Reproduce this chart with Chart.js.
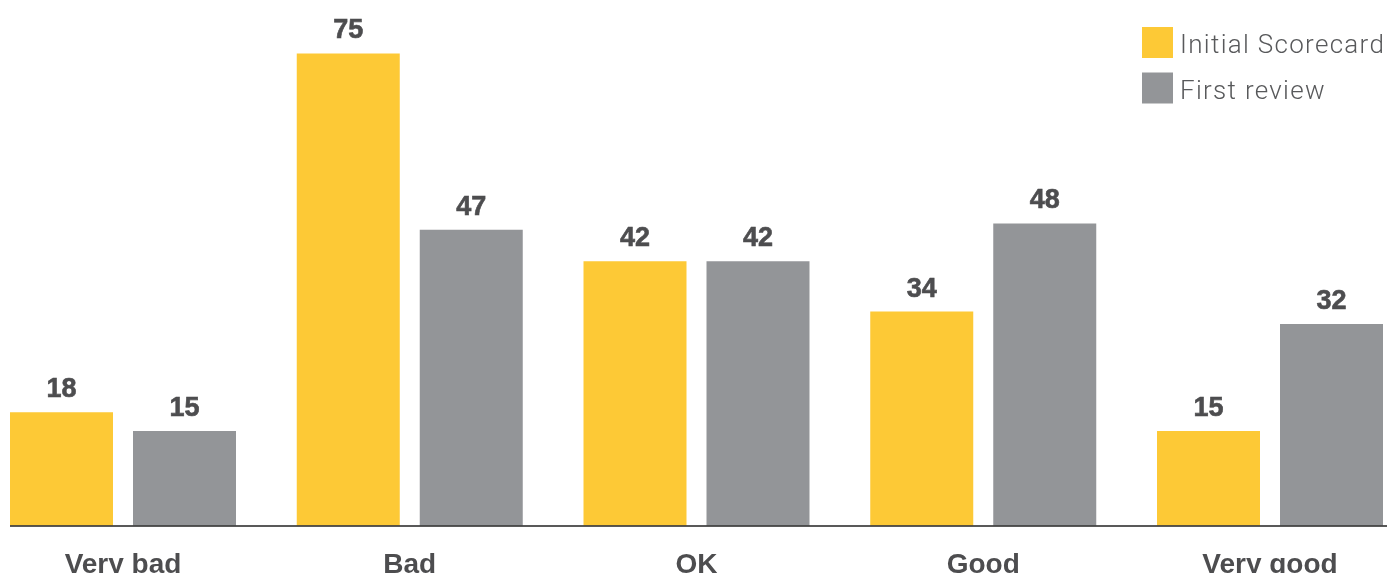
<!DOCTYPE html>
<html>
<head>
<meta charset="utf-8">
<script src="https://cdn.jsdelivr.net/npm/chart.js@4"></script>
<style>
  html, body { margin: 0; padding: 0; background: #ffffff; }
  #wrap { width: 1387px; height: 573px; position: relative; }
</style>
</head>
<body>
<div id="wrap"><canvas id="c"></canvas></div>
<script>
const categories = ["Very bad", "Bad", "OK", "Good", "Very good"];
const seriesNames = ["Initial Scorecard", "First review"];
const initialScorecard = [18, 75, 42, 34, 15];
const firstReview = [15, 47, 42, 48, 32];

const YELLOW = "#FDC936";
const GRAY = "#939598";
const TEXT = "#4d4d4f";

const valueLabels = {
  id: "valueLabels",
  afterDatasetsDraw(chart) {
    const ctx = chart.ctx;
    ctx.save();
    ctx.font = "bold 27px 'Liberation Sans', Arial, sans-serif";
    ctx.fillStyle = TEXT;
    ctx.strokeStyle = TEXT;
    ctx.lineWidth = 0.6;
    ctx.textAlign = "center";
    ctx.textBaseline = "alphabetic";
    chart.data.datasets.forEach((ds, i) => {
      const meta = chart.getDatasetMeta(i);
      meta.data.forEach((bar, j) => {
        ctx.fillText(String(ds.data[j]), bar.x, bar.y - 15);
        ctx.strokeText(String(ds.data[j]), bar.x, bar.y - 15);
      });
    });
    ctx.restore();
  }
};

const baseline = {
  id: "baseline",
  afterDatasetsDraw(chart) {
    const ctx = chart.ctx;
    const y = chart.scales.y.getPixelForValue(0);
    ctx.save();
    ctx.strokeStyle = "#222222";
    ctx.lineWidth = 1.5;
    ctx.beginPath();
    ctx.moveTo(10, y + 0.5);
    ctx.lineTo(chart.width, y + 0.5);
    ctx.stroke();
    ctx.restore();
  }
};

const sideLegend = {
  id: "sideLegend",
  afterDraw(chart) {
    const ctx = chart.ctx;
    ctx.save();
    ctx.font = "300 26px Roboto, 'Open Sans', sans-serif";
    if ("letterSpacing" in ctx) ctx.letterSpacing = "1.3px";
    ctx.textAlign = "left";
    ctx.textBaseline = "alphabetic";
    chart.data.datasets.forEach((ds, i) => {
      const top = 27 + i * 45.5;
      ctx.fillStyle = ds.backgroundColor;
      ctx.fillRect(1142, top, 31, 31);
      ctx.fillStyle = "#58595b";
      ctx.fillText(ds.label, 1180, top + 26);
    });
    ctx.restore();
  }
};

new Chart(document.getElementById("c"), {
  type: "bar",
  data: {
    labels: categories,
    datasets: [
      { label: seriesNames[0], data: initialScorecard, backgroundColor: YELLOW, clip: false },
      { label: seriesNames[1], data: firstReview, backgroundColor: GRAY, clip: false }
    ]
  },
  options: {
    responsive: true,
    maintainAspectRatio: false,
    animation: false,
    categoryPercentage: 246 / 286.75,
    barPercentage: 103 / 123,
    layout: { padding: { left: 123, right: 117, top: 0, bottom: 0 } },
    plugins: { legend: { display: false }, tooltip: { enabled: false } },
    scales: {
      x: {
        offset: false,
        grid: { display: false, drawTicks: false },
        border: { display: false },
        ticks: {
          color: TEXT,
          font: { family: "'Liberation Sans', Arial, sans-serif", size: 28, weight: "bold" },
          padding: 23,
          maxRotation: 0,
          autoSkip: false
        },
        afterFit(scale) { scale.height = 47.5; }
      },
      y: {
        display: false,
        min: 0,
        max: 83.5
      }
    }
  },
  plugins: [valueLabels, baseline, sideLegend]
});
</script>
</body>
</html>
